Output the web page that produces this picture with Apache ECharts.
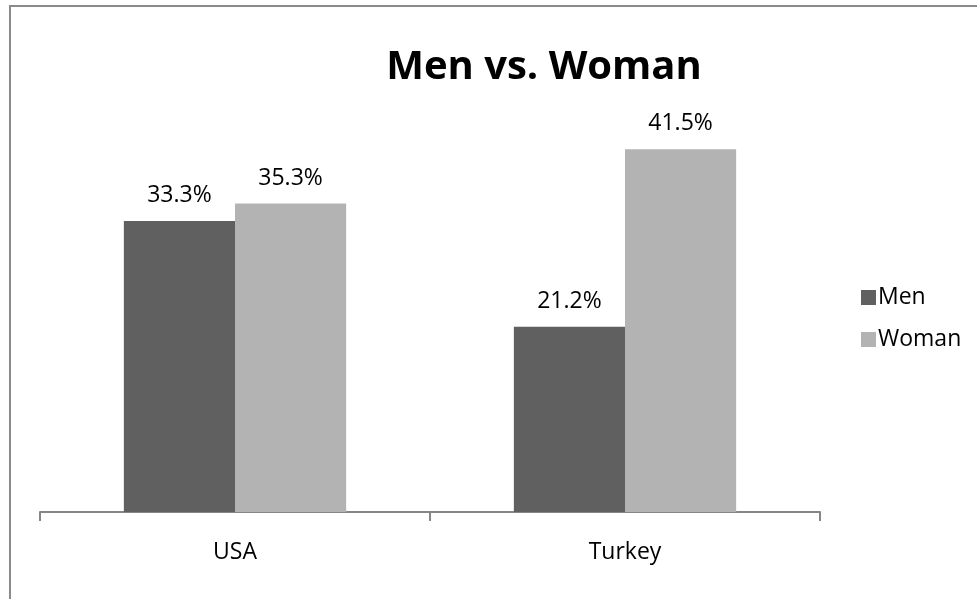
<!DOCTYPE html>
<html>
<head>
<meta charset="utf-8">
<script src="https://cdn.jsdelivr.net/npm/echarts@6/dist/echarts.min.js"></script>
<style>
  html, body { margin: 0; padding: 0; background: #fff; }
  #chart { width: 977px; height: 599px; }
</style>
</head>
<body>
<div id="chart"></div>
<script>
// Share of respondents by country and gender (percent)
const categories = ['USA', 'Turkey'];
const menValues = [33.3, 21.2];
const womanValues = [35.3, 41.5];
const seriesNames = ['Men', 'Woman'];

const FONT = '"Open Sans", "Noto Sans", sans-serif';
const chart = echarts.init(document.getElementById('chart'), null, { renderer: 'canvas' });

const labelStyle = {
  show: true,
  position: 'top',
  distance: 14,
  fontFamily: FONT,
  fontSize: 23,
  color: '#000',
  formatter: p => p.value.toFixed(1) + '%'
};

chart.setOption({
  animation: false,
  backgroundColor: '#fff',
  graphic: [{
    type: 'rect',
    shape: { x: 10, y: 6, width: 1000, height: 620 },
    style: { fill: 'none', stroke: '#8a8a8a', lineWidth: 2 },
    silent: true
  }],
  title: {
    text: 'Men vs. Woman',
    left: 539,
    top: 43,
    textAlign: 'center',
    textStyle: { fontFamily: FONT, fontWeight: 'bold', fontSize: 40, color: '#000' }
  },
  legend: {
    data: seriesNames,
    orient: 'vertical',
    left: 856,
    top: 281,
    itemWidth: 15,
    itemHeight: 15,
    itemGap: 19,
    icon: 'rect',
    textStyle: { fontFamily: FONT, fontSize: 23, color: '#000', padding: [0, 0, 0, -3] }
  },
  grid: { left: 40, right: 157, top: 75, bottom: 87, containLabel: false },
  xAxis: {
    type: 'category',
    data: categories,
    axisLine: { lineStyle: { color: '#868686', width: 2 } },
    axisTick: { show: true, length: 9, lineStyle: { color: '#868686', width: 2 } },
    axisLabel: { fontFamily: FONT, fontSize: 23, color: '#000', margin: 29 }
  },
  yAxis: {
    type: 'value',
    min: 0,
    max: 50,
    show: false,
    splitLine: { show: false }
  },
  series: [
    {
      name: seriesNames[0],
      type: 'bar',
      data: menValues,
      barGap: '0%',
      barCategoryGap: '43%',
      itemStyle: { color: '#606060' },
      label: labelStyle
    },
    {
      name: seriesNames[1],
      type: 'bar',
      data: womanValues,
      itemStyle: { color: '#b3b3b3' },
      label: labelStyle
    }
  ]
});
</script>
</body>
</html>
